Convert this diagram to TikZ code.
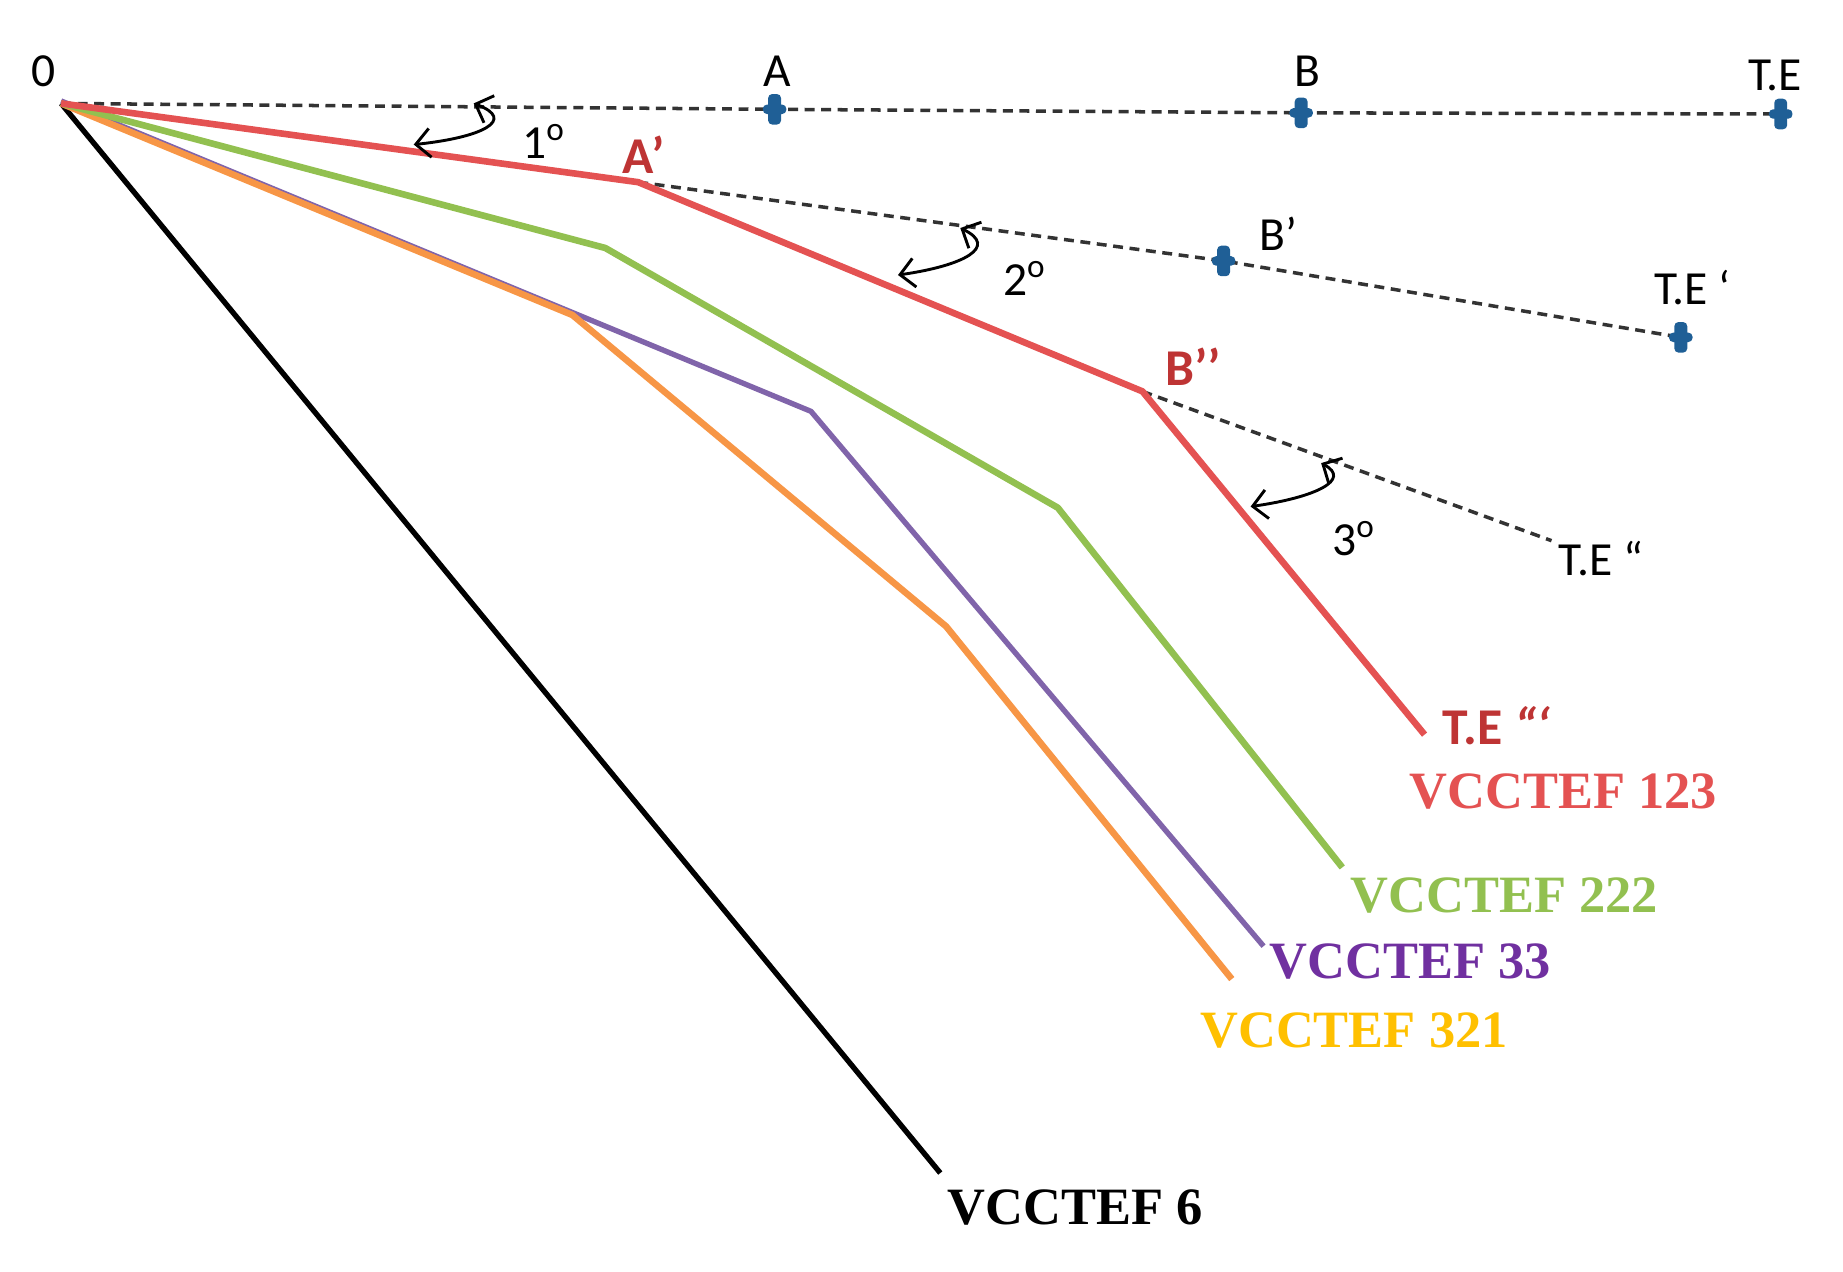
\documentclass[tikz,border=0pt]{standalone}
\usepackage{fontspec}
\setmainfont{Liberation Serif}
\newfontfamily\calibri{Carlito}
\usetikzlibrary{arrows.meta}

\definecolor{redline}{RGB}{228,82,82}
\definecolor{redlabel}{RGB}{190,52,52}
\definecolor{greenline}{RGB}{146,192,80}
\definecolor{purpleline}{RGB}{128,100,170}
\definecolor{orangeline}{RGB}{247,150,70}
\definecolor{crossblue}{RGB}{31,95,150}
\definecolor{purpletext}{RGB}{112,48,160}
\definecolor{yellowtext}{RGB}{255,192,0}

\tikzset{
  lbl/.style={inner sep=1pt,font=\calibri\fontsize{11.5}{13}\selectfont},
  redlbl/.style={lbl,text=redlabel,font=\calibri\bfseries\fontsize{12.5}{14}\selectfont},
  curvename/.style={inner sep=1pt,font=\bfseries\fontsize{12.7}{15}\selectfont},
  guide/.style={black!80,line width=0.85pt,dash pattern=on 2.4pt off 1.6pt},
  curve/.style={line width=1.6pt,line join=round},
  angarrow/.style={{Straight Barb[length=3.5pt,width=7pt]}-{Straight Barb[length=3.5pt,width=7pt]},line width=0.7pt},
  bluecross/.pic={\fill[crossblue,rounded corners=1pt]
    (-5.5,-13) rectangle (5.5,13) (-10,-4) rectangle (10,4);}
}

\begin{document}
\begin{tikzpicture}[x=0.1mm,y=-0.1mm]
  \useasboundingbox (0,0) rectangle (1568,1082);

  % points of the folded lines
  \coordinate (O) at (52,88);
  \coordinate (A) at (659,93);
  \coordinate (B) at (1107,96);
  \coordinate (TE) at (1515,97);
  \coordinate (Ap) at (543,155);
  \coordinate (Bp) at (1041,222);
  \coordinate (TEp) at (1430,287);
  \coordinate (Bpp) at (972,333);
  \coordinate (TEpp) at (1320,460);
  \coordinate (TEppp) at (1212,625);
  \coordinate (g1) at (515,211);
  \coordinate (g2) at (900,432);
  \coordinate (g3) at (1142,738);
  \coordinate (p1) at (487,268);
  \coordinate (p2) at (690,350);
  \coordinate (p3) at (1075,805);
  \coordinate (o2) at (805,533);
  \coordinate (o3) at (1048,833);
  \coordinate (k1) at (800,998);

  % dashed guides
  \draw[guide] (O) -- (A) -- (B) -- (TE);
  \draw[guide] (Ap) -- (Bp) -- (TEp);
  \draw[guide] (Bpp) -- (TEpp);

  % folded lines
  \draw[curve,black,line width=1.3pt] (O) -- (k1);
  \draw[curve,purpleline,line width=1.3pt] ([yshift=0.6pt]O) -- ([yshift=0.6pt]p1) -- (p2) -- (p3);
  \draw[curve,orangeline] (O) -- (p1) -- (o2) -- (o3);
  \draw[curve,greenline] (O) -- (g1) -- (g2) -- (g3);
  \draw[curve,redline] (O) -- (Ap) -- (Bpp) -- (TEppp);

  \foreach \pt in {A,B,TE,Bp,TEp}
    \pic at (\pt) {bluecross};

  % angle arrows
  \coordinate (a1s) at (352,123);
  \coordinate (a1e) at (403,88);
  \coordinate (a2s) at (764,234);
  \coordinate (a2e) at (817,194);
  \coordinate (a3s) at (1064,431);
  \coordinate (a3e) at (1124,394);
  \draw[angarrow] (a1s) .. controls (410,117) and (440,102) .. (a1e);
  \draw[angarrow] (a2s) .. controls (820,226) and (850,210) .. (a2e);
  \draw[angarrow] (a3s) .. controls (1120,423) and (1150,408) .. (a3e);

  % labels
  \node[lbl] (l0) at (37,61) {0};
  \node[lbl] (lA) at (661,61) {A};
  \node[lbl] (lB) at (1112,61) {B};
  \node[lbl] (lTE) at (1510,64) {T.E};
  \node[redlbl] (lAp) at (548,132) {A’};
  \node[redlbl] (lBpp) at (1015,312) {B’’};
  \node[lbl] (lBp) at (1088,199) {B’};
  \node[lbl] (lTEp) at (1440,245) {T.E ‘};
  \node[lbl] (lTEpp) at (1362,475) {T.E “};
  \node[redlbl] (lTEppp) at (1273,617) {T.E \textit{“‘}};
  \node[lbl] (d1) at (463,120) {1\textsuperscript{o}};
  \node[lbl] (d2) at (872,237) {2\textsuperscript{o}};
  \node[lbl] (d3) at (1152,458) {3\textsuperscript{o}};

  \node[curvename,text=redline] (v123) at (1330,673) {VCCTEF 123};
  \node[curvename,text=greenline] (v222) at (1280,762) {VCCTEF 222};
  \node[curvename,text=purpletext] (v33) at (1200,818) {VCCTEF 33};
  \node[curvename,text=yellowtext] (v321) at (1152,877) {VCCTEF 321};
  \node[curvename,text=black] (v6) at (915,1027) {VCCTEF 6};
\end{tikzpicture}
\end{document}
